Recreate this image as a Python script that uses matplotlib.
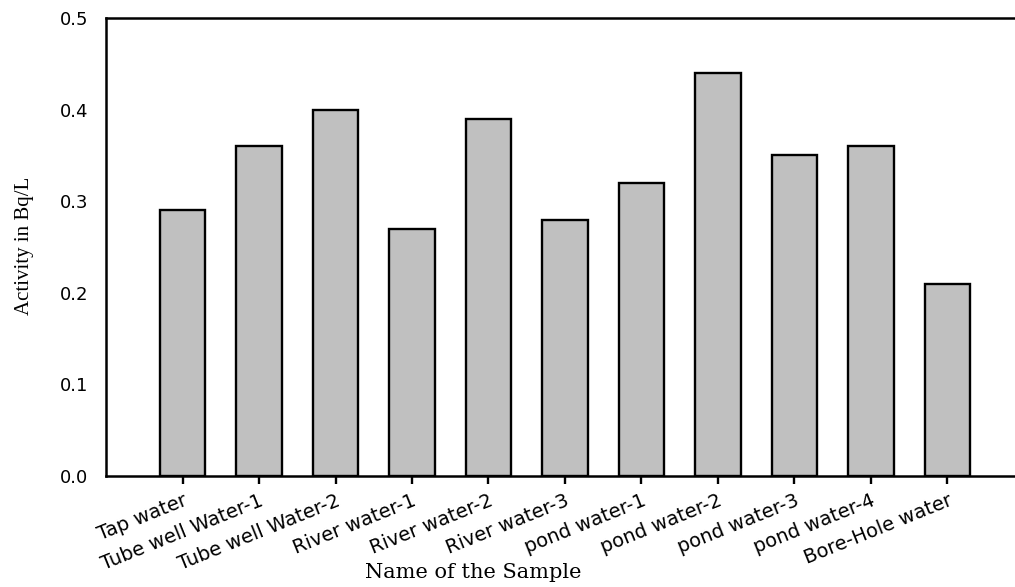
"""Bar chart: activity (Bq/L) in water samples."""
import matplotlib
matplotlib.use("Agg")
import matplotlib.pyplot as plt
import numpy as np

SAMPLES = ["Tap water", "Tube well Water-1", "Tube well Water-2", "River water-1",
           "River water-2", "River water-3", "pond water-1", "pond water-2",
           "pond water-3", "pond water-4", "Bore-Hole water"]
ACTIVITY = [0.29, 0.36, 0.40, 0.27, 0.39, 0.28, 0.32, 0.44, 0.35, 0.36, 0.21]
Y_TICKS = [0.0, 0.1, 0.2, 0.3, 0.4, 0.5]

BAR_COLOR = "#c0c0c0"
SANS = "DejaVu Sans"
SERIF = "DejaVu Serif"


def main():
    W, H = 1015, 587
    fig = plt.figure(figsize=(W / 100, H / 100), dpi=100, facecolor="white")
    # axes box in pixels: left 106, right ~1024 (past edge), top 18, bottom 476
    left, right, top, bottom = 106, 1024, 18, 476
    ax = fig.add_axes([left / W, 1 - bottom / H, (right - left) / W, (bottom - top) / H])

    x = np.arange(len(SAMPLES))
    ax.bar(x, ACTIVITY, width=0.6, color=BAR_COLOR, edgecolor="black", linewidth=1.7, zorder=3)

    ax.set_xlim(-1, 11)
    ax.set_ylim(0, 0.5)
    ax.set_yticks(Y_TICKS)
    ax.set_yticklabels([f"{v:.1f}" for v in Y_TICKS], fontfamily=SANS, fontsize=13)
    ax.tick_params(axis="y", length=0, pad=13)

    ax.set_xticks(x)
    ax.set_xticklabels(SAMPLES, rotation=22, ha="right", rotation_mode="anchor",
                       fontfamily=SANS, fontsize=14)
    ax.tick_params(axis="x", direction="out", length=6, width=1.7, pad=5)

    for side in ("left", "bottom", "top"):
        ax.spines[side].set_linewidth(1.8)
    ax.spines["right"].set_visible(False)

    fig.text(24 / W, 1 - 246 / H, "Activity in Bq/L", rotation=90, ha="center", va="center",
             fontfamily="Liberation Serif", fontsize=15)
    fig.text(473 / W, 1 - 572 / H, "Name of the Sample", ha="center", va="center",
             fontfamily=SERIF, fontsize=15)

    fig.savefig("out.png", dpi=100, facecolor="white")
    plt.close(fig)


if __name__ == "__main__":
    main()
